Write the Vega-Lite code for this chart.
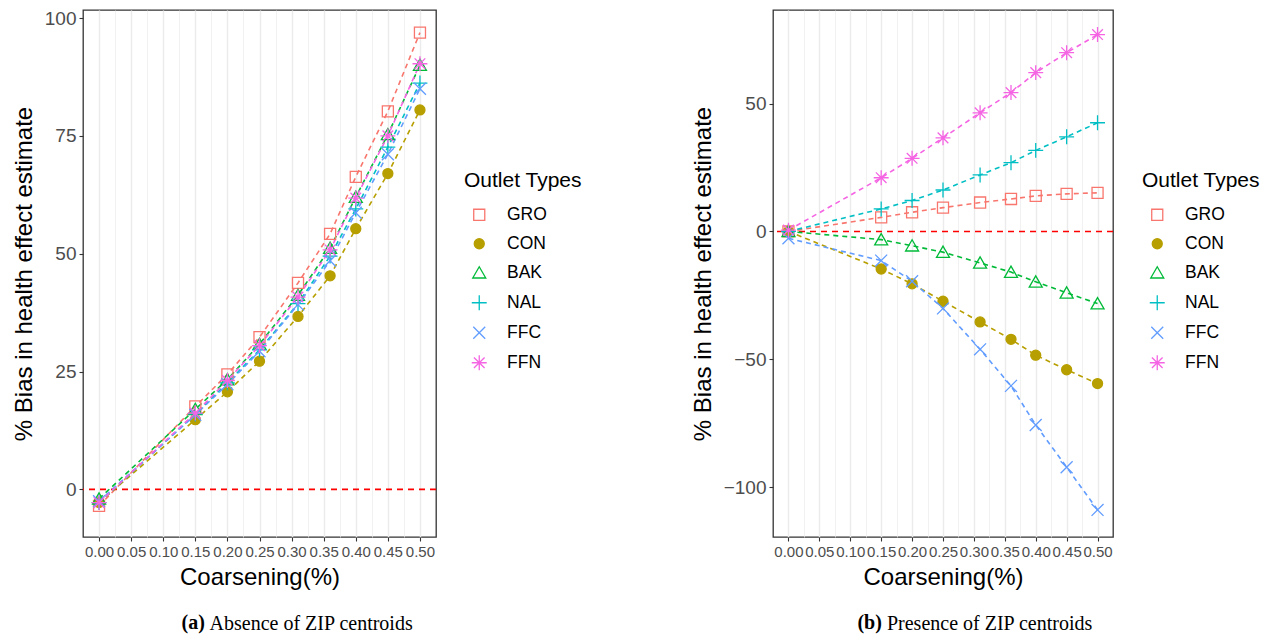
{
  "$schema": "https://vega.github.io/schema/vega-lite/v6.json",
  "background": "white",
  "padding": {"left": 11, "top": 8, "right": 0, "bottom": 0},
  "datasets": {
    "absence": [
      {"type": "GRO", "x": 0, "y": -3.5}, {"type": "GRO", "x": 0.15, "y": 17.6}, {"type": "GRO", "x": 0.2, "y": 24.4}, {"type": "GRO", "x": 0.25, "y": 32.3}, {"type": "GRO", "x": 0.31, "y": 43.8}, {"type": "GRO", "x": 0.36, "y": 54.2}, {"type": "GRO", "x": 0.4, "y": 66.3}, {"type": "GRO", "x": 0.45, "y": 80.2}, {"type": "GRO", "x": 0.5, "y": 96.9},
      {"type": "CON", "x": 0, "y": -2.8}, {"type": "CON", "x": 0.15, "y": 14.8}, {"type": "CON", "x": 0.2, "y": 20.7}, {"type": "CON", "x": 0.25, "y": 27.2}, {"type": "CON", "x": 0.31, "y": 36.7}, {"type": "CON", "x": 0.36, "y": 45.3}, {"type": "CON", "x": 0.4, "y": 55.3}, {"type": "CON", "x": 0.45, "y": 67.0}, {"type": "CON", "x": 0.5, "y": 80.5},
      {"type": "BAK", "x": 0, "y": -2.0}, {"type": "BAK", "x": 0.15, "y": 17.0}, {"type": "BAK", "x": 0.2, "y": 23.3}, {"type": "BAK", "x": 0.25, "y": 30.8}, {"type": "BAK", "x": 0.31, "y": 41.2}, {"type": "BAK", "x": 0.36, "y": 51.2}, {"type": "BAK", "x": 0.4, "y": 62.0}, {"type": "BAK", "x": 0.45, "y": 75.3}, {"type": "BAK", "x": 0.5, "y": 90.0},
      {"type": "NAL", "x": 0, "y": -2.8}, {"type": "NAL", "x": 0.15, "y": 16.0}, {"type": "NAL", "x": 0.2, "y": 22.6}, {"type": "NAL", "x": 0.25, "y": 29.6}, {"type": "NAL", "x": 0.31, "y": 39.4}, {"type": "NAL", "x": 0.36, "y": 49.5}, {"type": "NAL", "x": 0.4, "y": 59.5}, {"type": "NAL", "x": 0.45, "y": 72.6}, {"type": "NAL", "x": 0.5, "y": 86.2},
      {"type": "FFC", "x": 0, "y": -2.5}, {"type": "FFC", "x": 0.15, "y": 15.8}, {"type": "FFC", "x": 0.2, "y": 22.3}, {"type": "FFC", "x": 0.25, "y": 29.3}, {"type": "FFC", "x": 0.31, "y": 39.2}, {"type": "FFC", "x": 0.36, "y": 48.5}, {"type": "FFC", "x": 0.4, "y": 58.7}, {"type": "FFC", "x": 0.45, "y": 71.1}, {"type": "FFC", "x": 0.5, "y": 85.0},
      {"type": "FFN", "x": 0, "y": -2.8}, {"type": "FFN", "x": 0.15, "y": 16.2}, {"type": "FFN", "x": 0.2, "y": 23.1}, {"type": "FFN", "x": 0.25, "y": 30.5}, {"type": "FFN", "x": 0.31, "y": 40.8}, {"type": "FFN", "x": 0.36, "y": 50.8}, {"type": "FFN", "x": 0.4, "y": 61.8}, {"type": "FFN", "x": 0.45, "y": 75.0}, {"type": "FFN", "x": 0.5, "y": 90.3}
    ],
    "presence": [
      {"type": "GRO", "x": 0, "y": 0.0}, {"type": "GRO", "x": 0.15, "y": 5.5}, {"type": "GRO", "x": 0.2, "y": 7.5}, {"type": "GRO", "x": 0.25, "y": 9.3}, {"type": "GRO", "x": 0.31, "y": 11.3}, {"type": "GRO", "x": 0.36, "y": 12.7}, {"type": "GRO", "x": 0.4, "y": 13.9}, {"type": "GRO", "x": 0.45, "y": 14.7}, {"type": "GRO", "x": 0.5, "y": 15.1},
      {"type": "CON", "x": 0, "y": 0.0}, {"type": "CON", "x": 0.15, "y": -14.7}, {"type": "CON", "x": 0.2, "y": -20.5}, {"type": "CON", "x": 0.25, "y": -27.3}, {"type": "CON", "x": 0.31, "y": -35.4}, {"type": "CON", "x": 0.36, "y": -42.2}, {"type": "CON", "x": 0.4, "y": -48.4}, {"type": "CON", "x": 0.45, "y": -54.1}, {"type": "CON", "x": 0.5, "y": -59.5},
      {"type": "BAK", "x": 0, "y": 0.0}, {"type": "BAK", "x": 0.15, "y": -3.2}, {"type": "BAK", "x": 0.2, "y": -5.6}, {"type": "BAK", "x": 0.25, "y": -8.1}, {"type": "BAK", "x": 0.31, "y": -12.3}, {"type": "BAK", "x": 0.36, "y": -15.9}, {"type": "BAK", "x": 0.4, "y": -19.7}, {"type": "BAK", "x": 0.45, "y": -24.0}, {"type": "BAK", "x": 0.5, "y": -28.2},
      {"type": "NAL", "x": 0, "y": 0.0}, {"type": "NAL", "x": 0.15, "y": 8.8}, {"type": "NAL", "x": 0.2, "y": 12.1}, {"type": "NAL", "x": 0.25, "y": 16.2}, {"type": "NAL", "x": 0.31, "y": 22.1}, {"type": "NAL", "x": 0.36, "y": 26.9}, {"type": "NAL", "x": 0.4, "y": 31.7}, {"type": "NAL", "x": 0.45, "y": 37.0}, {"type": "NAL", "x": 0.5, "y": 42.5},
      {"type": "FFC", "x": 0, "y": -2.7}, {"type": "FFC", "x": 0.15, "y": -11.4}, {"type": "FFC", "x": 0.2, "y": -19.5}, {"type": "FFC", "x": 0.25, "y": -30.1}, {"type": "FFC", "x": 0.31, "y": -46.1}, {"type": "FFC", "x": 0.36, "y": -60.4}, {"type": "FFC", "x": 0.4, "y": -75.7}, {"type": "FFC", "x": 0.45, "y": -92.2}, {"type": "FFC", "x": 0.5, "y": -108.9},
      {"type": "FFN", "x": 0, "y": 0.5}, {"type": "FFN", "x": 0.15, "y": 21.0}, {"type": "FFN", "x": 0.2, "y": 28.6}, {"type": "FFN", "x": 0.25, "y": 36.6}, {"type": "FFN", "x": 0.31, "y": 46.4}, {"type": "FFN", "x": 0.36, "y": 54.3}, {"type": "FFN", "x": 0.4, "y": 62.1}, {"type": "FFN", "x": 0.45, "y": 69.9}, {"type": "FFN", "x": 0.5, "y": 77.0}
    ]
  },
  "config": {
    "font": "Liberation Sans",
    "view": {"stroke": "#333333", "strokeWidth": 1.3},
    "axis": {
      "domain": false,
      "gridColor": "#EBEBEB",
      "tickColor": "#333333",
      "tickSize": 4,
      "tickWidth": 1.1,
      "labelColor": "#4D4D4D",
      "labelPadding": 3,
      "labelOverlap": false,
      "labelBound": false,
      "labelFlush": false,
      "titleFontWeight": "normal",
      "titleColor": "#000000",
      "titleFontSize": 24
    },
    "legend": {
      "titleFontSize": 21,
      "titleFontWeight": "normal",
      "titleColor": "#000000",
      "labelFontSize": 17.5,
      "labelColor": "#000000",
      "symbolSize": 169,
      "symbolStrokeWidth": 1.3,
      "symbolOffset": 6.5,
      "labelOffset": 19,
      "rowPadding": 10,
      "titlePadding": 15
    }
  },
  "spacing": 107,
  "resolve": {"legend": {"stroke": "independent", "fill": "independent", "shape": "independent"}},
  "hconcat": [
    {
      "resolve": {"legend": {"stroke": "independent", "fill": "independent", "shape": "independent"}},
      "title": {"text": "Absence of ZIP centroids", "orient": "bottom", "anchor": "middle", "frame": "bounds", "font": "Liberation Serif", "fontSize": 20, "fontWeight": "normal", "color": "#000000", "offset": 0, "dx": 14, "dy": -20},
      "vconcat": [
        {
          "width": 353,
          "height": 527,
          "title": {"text": "(a)", "orient": "bottom", "anchor": "middle", "frame": "bounds", "font": "Liberation Serif", "fontSize": 20, "fontWeight": "bold", "color": "#000000", "offset": 24, "dx": -104},
          "layer": [
            {
              "data": {"values": [{}]},
              "mark": {"type": "rule", "color": "#FF0000", "strokeDash": [6, 5], "strokeWidth": 1.6},
              "encoding": {
                "y": {"datum": 0, "type": "quantitative", "scale": {"domain": [-10.1, 101.7], "nice": false, "zero": false},
                  "axis": {"title": "% Bias in health effect estimate", "labelFontSize": 19, "titlePadding": 8,
                    "values": [0, 12.5, 25, 37.5, 50, 62.5, 75, 87.5, 100],
                    "labelExpr": "datum.value % 25 == 0 ? datum.label : ''",
                    "gridWidth": {"condition": {"test": "datum.value % 25 == 0", "value": 1.4}, "value": 0.7},
                    "tickOpacity": {"condition": {"test": "datum.value % 25 == 0", "value": 1}, "value": 0}}}
              }
            },
            {
              "data": {"name": "absence"},
              "mark": {"type": "line", "strokeDash": [5, 4], "strokeWidth": 1.6},
              "encoding": {
                "x": {"field": "x", "type": "quantitative", "scale": {"domain": [-0.025, 0.525], "nice": false, "zero": false},
                  "axis": {"title": "Coarsening(%)", "labelFontSize": 15, "titlePadding": 6,
                    "values": [0, 0.025, 0.05, 0.075, 0.1, 0.125, 0.15, 0.175, 0.2, 0.225, 0.25, 0.275, 0.3, 0.325, 0.35, 0.375, 0.4, 0.425, 0.45, 0.475, 0.5],
                    "labelExpr": "round(datum.value*1000) % 50 == 0 ? format(datum.value, '.2f') : ''",
                    "gridWidth": {"condition": {"test": "round(datum.value*1000) % 50 == 0", "value": 1.4}, "value": 0.7},
                    "tickOpacity": {"condition": {"test": "round(datum.value*1000) % 50 == 0", "value": 1}, "value": 0}}},
                "y": {"field": "y", "type": "quantitative", "scale": {"domain": [-10.1, 101.7], "nice": false, "zero": false},
                  "axis": {"title": "% Bias in health effect estimate", "labelFontSize": 19, "titlePadding": 8,
                    "values": [0, 12.5, 25, 37.5, 50, 62.5, 75, 87.5, 100],
                    "labelExpr": "datum.value % 25 == 0 ? datum.label : ''",
                    "gridWidth": {"condition": {"test": "datum.value % 25 == 0", "value": 1.4}, "value": 0.7},
                    "tickOpacity": {"condition": {"test": "datum.value % 25 == 0", "value": 1}, "value": 0}}},
                "stroke": {"field": "type", "type": "nominal", "title": "Outlet Types",
                  "scale": {"domain": ["GRO", "CON", "BAK", "NAL", "FFC", "FFN"], "range": ["#F8766D", "#B79F00", "#00BA38", "#00BFC4", "#619CFF", "#F564E3"]},
                  "legend": {"orient": "none", "legendX": 381, "legendY": 160,
                    "encode": {"symbols": {"enter": {"shape": {"signal": "datum.value == 'GRO' ? 'M-1.7,0H-0.85M0.85,0H1.7M-0.85,-0.85H0.85V0.85H-0.85Z' : datum.value == 'CON' ? 'M-1.7,0H1.7M0.77,0A0.77,0.77 0 1,1 -0.77,0A0.77,0.77 0 1,1 0.77,0Z' : datum.value == 'BAK' ? 'M-1.7,0.81H1.7M0,-0.92L1,0.81L-1,0.81Z' : datum.value == 'NAL' ? 'M-1.7,0H1.7M0,-1.15V1.15' : datum.value == 'FFC' ? 'M-1.7,0H1.7M-0.92,-0.92L0.92,0.92M-0.92,0.92L0.92,-0.92' : 'M-1.7,0H1.7M0,-1.15V1.15M-0.82,-0.82L0.82,0.82M-0.82,0.82L0.82,-0.82'"}}, "update": {"shape": {"signal": "datum.value == 'GRO' ? 'M-1.7,0H-0.85M0.85,0H1.7M-0.85,-0.85H0.85V0.85H-0.85Z' : datum.value == 'CON' ? 'M-1.7,0H1.7M0.77,0A0.77,0.77 0 1,1 -0.77,0A0.77,0.77 0 1,1 0.77,0Z' : datum.value == 'BAK' ? 'M-1.7,0.81H1.7M0,-0.92L1,0.81L-1,0.81Z' : datum.value == 'NAL' ? 'M-1.7,0H1.7M0,-1.15V1.15' : datum.value == 'FFC' ? 'M-1.7,0H1.7M-0.92,-0.92L0.92,0.92M-0.92,0.92L0.92,-0.92' : 'M-1.7,0H1.7M0,-1.15V1.15M-0.82,-0.82L0.82,0.82M-0.82,0.82L0.82,-0.82'"}}}}}}
              }
            },
            {
              "data": {"name": "absence"},
              "mark": {"type": "point", "size": 169, "strokeWidth": 1.3, "opacity": 1},
              "encoding": {
                "x": {"field": "x", "type": "quantitative", "scale": {"domain": [-0.025, 0.525], "nice": false, "zero": false},
                  "axis": {"title": "Coarsening(%)", "labelFontSize": 15, "titlePadding": 6,
                    "values": [0, 0.025, 0.05, 0.075, 0.1, 0.125, 0.15, 0.175, 0.2, 0.225, 0.25, 0.275, 0.3, 0.325, 0.35, 0.375, 0.4, 0.425, 0.45, 0.475, 0.5],
                    "labelExpr": "round(datum.value*1000) % 50 == 0 ? format(datum.value, '.2f') : ''",
                    "gridWidth": {"condition": {"test": "round(datum.value*1000) % 50 == 0", "value": 1.4}, "value": 0.7},
                    "tickOpacity": {"condition": {"test": "round(datum.value*1000) % 50 == 0", "value": 1}, "value": 0}}},
                "y": {"field": "y", "type": "quantitative", "scale": {"domain": [-10.1, 101.7], "nice": false, "zero": false},
                  "axis": {"title": "% Bias in health effect estimate", "labelFontSize": 19, "titlePadding": 8,
                    "values": [0, 12.5, 25, 37.5, 50, 62.5, 75, 87.5, 100],
                    "labelExpr": "datum.value % 25 == 0 ? datum.label : ''",
                    "gridWidth": {"condition": {"test": "datum.value % 25 == 0", "value": 1.4}, "value": 0.7},
                    "tickOpacity": {"condition": {"test": "datum.value % 25 == 0", "value": 1}, "value": 0}}},
                "stroke": {"field": "type", "type": "nominal", "title": "Outlet Types",
                  "scale": {"domain": ["GRO", "CON", "BAK", "NAL", "FFC", "FFN"], "range": ["#F8766D", "#B79F00", "#00BA38", "#00BFC4", "#619CFF", "#F564E3"]},
                  "legend": {"orient": "none", "legendX": 381, "legendY": 160,
                    "encode": {"symbols": {"enter": {"shape": {"signal": "datum.value == 'GRO' ? 'M-1.7,0H-0.85M0.85,0H1.7M-0.85,-0.85H0.85V0.85H-0.85Z' : datum.value == 'CON' ? 'M-1.7,0H1.7M0.77,0A0.77,0.77 0 1,1 -0.77,0A0.77,0.77 0 1,1 0.77,0Z' : datum.value == 'BAK' ? 'M-1.7,0.81H1.7M0,-0.92L1,0.81L-1,0.81Z' : datum.value == 'NAL' ? 'M-1.7,0H1.7M0,-1.15V1.15' : datum.value == 'FFC' ? 'M-1.7,0H1.7M-0.92,-0.92L0.92,0.92M-0.92,0.92L0.92,-0.92' : 'M-1.7,0H1.7M0,-1.15V1.15M-0.82,-0.82L0.82,0.82M-0.82,0.82L0.82,-0.82'"}}, "update": {"shape": {"signal": "datum.value == 'GRO' ? 'M-1.7,0H-0.85M0.85,0H1.7M-0.85,-0.85H0.85V0.85H-0.85Z' : datum.value == 'CON' ? 'M-1.7,0H1.7M0.77,0A0.77,0.77 0 1,1 -0.77,0A0.77,0.77 0 1,1 0.77,0Z' : datum.value == 'BAK' ? 'M-1.7,0.81H1.7M0,-0.92L1,0.81L-1,0.81Z' : datum.value == 'NAL' ? 'M-1.7,0H1.7M0,-1.15V1.15' : datum.value == 'FFC' ? 'M-1.7,0H1.7M-0.92,-0.92L0.92,0.92M-0.92,0.92L0.92,-0.92' : 'M-1.7,0H1.7M0,-1.15V1.15M-0.82,-0.82L0.82,0.82M-0.82,0.82L0.82,-0.82'"}}}}}},
                "fill": {"field": "type", "type": "nominal", "title": "Outlet Types",
                  "scale": {"domain": ["GRO", "CON", "BAK", "NAL", "FFC", "FFN"], "range": ["transparent", "#B79F00", "transparent", "transparent", "transparent", "transparent"]},
                  "legend": {"orient": "none", "legendX": 381, "legendY": 160}},
                "shape": {"field": "type", "type": "nominal", "title": "Outlet Types",
                  "scale": {"domain": ["GRO", "CON", "BAK", "NAL", "FFC", "FFN"], "range": [
                    "M-0.85,-0.85H0.85V0.85H-0.85Z",
                    "M0.77,0A0.77,0.77 0 1,1 -0.77,0A0.77,0.77 0 1,1 0.77,0Z",
                    "M0,-0.92L1,0.81L-1,0.81Z",
                    "M-1.15,0H1.15M0,-1.15V1.15",
                    "M-0.92,-0.92L0.92,0.92M-0.92,0.92L0.92,-0.92",
                    "M-1.15,0H1.15M0,-1.15V1.15M-0.82,-0.82L0.82,0.82M-0.82,0.82L0.82,-0.82"]},
                  "legend": {"orient": "none", "legendX": 381, "legendY": 160}}
              }
            }
          ]
        }
      ]
    },
    {
      "resolve": {"legend": {"stroke": "independent", "fill": "independent", "shape": "independent"}},
      "title": {"text": "Presence of ZIP centroids", "orient": "bottom", "anchor": "middle", "frame": "bounds", "font": "Liberation Serif", "fontSize": 20, "fontWeight": "normal", "color": "#000000", "offset": 0, "dx": 14, "dy": -20},
      "vconcat": [
        {
          "width": 340,
          "height": 527,
          "title": {"text": "(b)", "orient": "bottom", "anchor": "middle", "frame": "bounds", "font": "Liberation Serif", "fontSize": 20, "fontWeight": "bold", "color": "#000000", "offset": 24, "dx": -106},
          "layer": [
            {
              "data": {"values": [{}]},
              "mark": {"type": "rule", "color": "#FF0000", "strokeDash": [6, 5], "strokeWidth": 1.6},
              "encoding": {
                "y": {"datum": 0, "type": "quantitative", "scale": {"domain": [-119.5, 86.6], "nice": false, "zero": false},
                  "axis": {"title": "% Bias in health effect estimate", "labelFontSize": 19, "titlePadding": 8,
                    "values": [-100, -75, -50, -25, 0, 25, 50, 75],
                    "labelExpr": "datum.value % 50 == 0 ? datum.label : ''",
                    "gridWidth": {"condition": {"test": "datum.value % 50 == 0", "value": 1.4}, "value": 0.7},
                    "tickOpacity": {"condition": {"test": "datum.value % 50 == 0", "value": 1}, "value": 0}}}
              }
            },
            {
              "data": {"name": "presence"},
              "mark": {"type": "line", "strokeDash": [5, 4], "strokeWidth": 1.6},
              "encoding": {
                "x": {"field": "x", "type": "quantitative", "scale": {"domain": [-0.025, 0.525], "nice": false, "zero": false},
                  "axis": {"title": "Coarsening(%)", "labelFontSize": 15, "titlePadding": 6,
                    "values": [0, 0.025, 0.05, 0.075, 0.1, 0.125, 0.15, 0.175, 0.2, 0.225, 0.25, 0.275, 0.3, 0.325, 0.35, 0.375, 0.4, 0.425, 0.45, 0.475, 0.5],
                    "labelExpr": "round(datum.value*1000) % 50 == 0 ? format(datum.value, '.2f') : ''",
                    "gridWidth": {"condition": {"test": "round(datum.value*1000) % 50 == 0", "value": 1.4}, "value": 0.7},
                    "tickOpacity": {"condition": {"test": "round(datum.value*1000) % 50 == 0", "value": 1}, "value": 0}}},
                "y": {"field": "y", "type": "quantitative", "scale": {"domain": [-119.5, 86.6], "nice": false, "zero": false},
                  "axis": {"title": "% Bias in health effect estimate", "labelFontSize": 19, "titlePadding": 8,
                    "values": [-100, -75, -50, -25, 0, 25, 50, 75],
                    "labelExpr": "datum.value % 50 == 0 ? datum.label : ''",
                    "gridWidth": {"condition": {"test": "datum.value % 50 == 0", "value": 1.4}, "value": 0.7},
                    "tickOpacity": {"condition": {"test": "datum.value % 50 == 0", "value": 1}, "value": 0}}},
                "stroke": {"field": "type", "type": "nominal", "title": "Outlet Types",
                  "scale": {"domain": ["GRO", "CON", "BAK", "NAL", "FFC", "FFN"], "range": ["#F8766D", "#B79F00", "#00BA38", "#00BFC4", "#619CFF", "#F564E3"]},
                  "legend": {"orient": "none", "legendX": 369, "legendY": 160,
                    "encode": {"symbols": {"enter": {"shape": {"signal": "datum.value == 'GRO' ? 'M-1.7,0H-0.85M0.85,0H1.7M-0.85,-0.85H0.85V0.85H-0.85Z' : datum.value == 'CON' ? 'M-1.7,0H1.7M0.77,0A0.77,0.77 0 1,1 -0.77,0A0.77,0.77 0 1,1 0.77,0Z' : datum.value == 'BAK' ? 'M-1.7,0.81H1.7M0,-0.92L1,0.81L-1,0.81Z' : datum.value == 'NAL' ? 'M-1.7,0H1.7M0,-1.15V1.15' : datum.value == 'FFC' ? 'M-1.7,0H1.7M-0.92,-0.92L0.92,0.92M-0.92,0.92L0.92,-0.92' : 'M-1.7,0H1.7M0,-1.15V1.15M-0.82,-0.82L0.82,0.82M-0.82,0.82L0.82,-0.82'"}}, "update": {"shape": {"signal": "datum.value == 'GRO' ? 'M-1.7,0H-0.85M0.85,0H1.7M-0.85,-0.85H0.85V0.85H-0.85Z' : datum.value == 'CON' ? 'M-1.7,0H1.7M0.77,0A0.77,0.77 0 1,1 -0.77,0A0.77,0.77 0 1,1 0.77,0Z' : datum.value == 'BAK' ? 'M-1.7,0.81H1.7M0,-0.92L1,0.81L-1,0.81Z' : datum.value == 'NAL' ? 'M-1.7,0H1.7M0,-1.15V1.15' : datum.value == 'FFC' ? 'M-1.7,0H1.7M-0.92,-0.92L0.92,0.92M-0.92,0.92L0.92,-0.92' : 'M-1.7,0H1.7M0,-1.15V1.15M-0.82,-0.82L0.82,0.82M-0.82,0.82L0.82,-0.82'"}}}}}}
              }
            },
            {
              "data": {"name": "presence"},
              "mark": {"type": "point", "size": 169, "strokeWidth": 1.3, "opacity": 1},
              "encoding": {
                "x": {"field": "x", "type": "quantitative", "scale": {"domain": [-0.025, 0.525], "nice": false, "zero": false},
                  "axis": {"title": "Coarsening(%)", "labelFontSize": 15, "titlePadding": 6,
                    "values": [0, 0.025, 0.05, 0.075, 0.1, 0.125, 0.15, 0.175, 0.2, 0.225, 0.25, 0.275, 0.3, 0.325, 0.35, 0.375, 0.4, 0.425, 0.45, 0.475, 0.5],
                    "labelExpr": "round(datum.value*1000) % 50 == 0 ? format(datum.value, '.2f') : ''",
                    "gridWidth": {"condition": {"test": "round(datum.value*1000) % 50 == 0", "value": 1.4}, "value": 0.7},
                    "tickOpacity": {"condition": {"test": "round(datum.value*1000) % 50 == 0", "value": 1}, "value": 0}}},
                "y": {"field": "y", "type": "quantitative", "scale": {"domain": [-119.5, 86.6], "nice": false, "zero": false},
                  "axis": {"title": "% Bias in health effect estimate", "labelFontSize": 19, "titlePadding": 8,
                    "values": [-100, -75, -50, -25, 0, 25, 50, 75],
                    "labelExpr": "datum.value % 50 == 0 ? datum.label : ''",
                    "gridWidth": {"condition": {"test": "datum.value % 50 == 0", "value": 1.4}, "value": 0.7},
                    "tickOpacity": {"condition": {"test": "datum.value % 50 == 0", "value": 1}, "value": 0}}},
                "stroke": {"field": "type", "type": "nominal", "title": "Outlet Types",
                  "scale": {"domain": ["GRO", "CON", "BAK", "NAL", "FFC", "FFN"], "range": ["#F8766D", "#B79F00", "#00BA38", "#00BFC4", "#619CFF", "#F564E3"]},
                  "legend": {"orient": "none", "legendX": 369, "legendY": 160,
                    "encode": {"symbols": {"enter": {"shape": {"signal": "datum.value == 'GRO' ? 'M-1.7,0H-0.85M0.85,0H1.7M-0.85,-0.85H0.85V0.85H-0.85Z' : datum.value == 'CON' ? 'M-1.7,0H1.7M0.77,0A0.77,0.77 0 1,1 -0.77,0A0.77,0.77 0 1,1 0.77,0Z' : datum.value == 'BAK' ? 'M-1.7,0.81H1.7M0,-0.92L1,0.81L-1,0.81Z' : datum.value == 'NAL' ? 'M-1.7,0H1.7M0,-1.15V1.15' : datum.value == 'FFC' ? 'M-1.7,0H1.7M-0.92,-0.92L0.92,0.92M-0.92,0.92L0.92,-0.92' : 'M-1.7,0H1.7M0,-1.15V1.15M-0.82,-0.82L0.82,0.82M-0.82,0.82L0.82,-0.82'"}}, "update": {"shape": {"signal": "datum.value == 'GRO' ? 'M-1.7,0H-0.85M0.85,0H1.7M-0.85,-0.85H0.85V0.85H-0.85Z' : datum.value == 'CON' ? 'M-1.7,0H1.7M0.77,0A0.77,0.77 0 1,1 -0.77,0A0.77,0.77 0 1,1 0.77,0Z' : datum.value == 'BAK' ? 'M-1.7,0.81H1.7M0,-0.92L1,0.81L-1,0.81Z' : datum.value == 'NAL' ? 'M-1.7,0H1.7M0,-1.15V1.15' : datum.value == 'FFC' ? 'M-1.7,0H1.7M-0.92,-0.92L0.92,0.92M-0.92,0.92L0.92,-0.92' : 'M-1.7,0H1.7M0,-1.15V1.15M-0.82,-0.82L0.82,0.82M-0.82,0.82L0.82,-0.82'"}}}}}},
                "fill": {"field": "type", "type": "nominal", "title": "Outlet Types",
                  "scale": {"domain": ["GRO", "CON", "BAK", "NAL", "FFC", "FFN"], "range": ["transparent", "#B79F00", "transparent", "transparent", "transparent", "transparent"]},
                  "legend": {"orient": "none", "legendX": 369, "legendY": 160}},
                "shape": {"field": "type", "type": "nominal", "title": "Outlet Types",
                  "scale": {"domain": ["GRO", "CON", "BAK", "NAL", "FFC", "FFN"], "range": [
                    "M-0.85,-0.85H0.85V0.85H-0.85Z",
                    "M0.77,0A0.77,0.77 0 1,1 -0.77,0A0.77,0.77 0 1,1 0.77,0Z",
                    "M0,-0.92L1,0.81L-1,0.81Z",
                    "M-1.15,0H1.15M0,-1.15V1.15",
                    "M-0.92,-0.92L0.92,0.92M-0.92,0.92L0.92,-0.92",
                    "M-1.15,0H1.15M0,-1.15V1.15M-0.82,-0.82L0.82,0.82M-0.82,0.82L0.82,-0.82"]},
                  "legend": {"orient": "none", "legendX": 369, "legendY": 160}}
              }
            }
          ]
        }
      ]
    }
  ]
}
